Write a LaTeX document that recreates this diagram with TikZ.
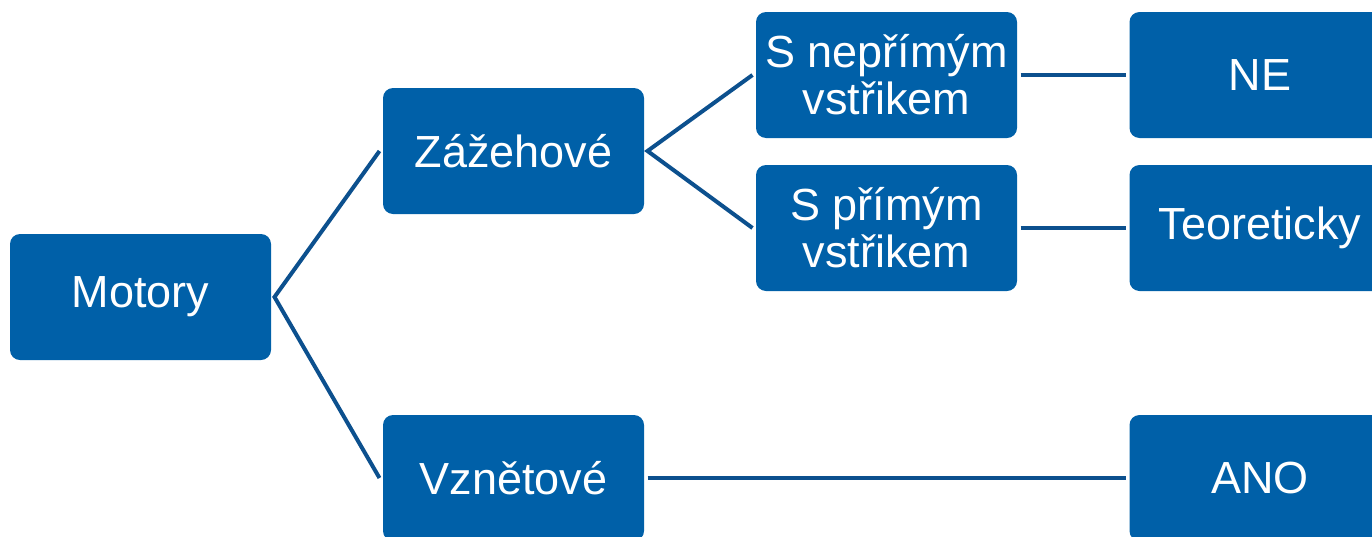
\documentclass[tikz,border=0pt]{standalone}
\usepackage{fontspec}
\setmainfont{Liberation Sans}
\definecolor{boxblue}{RGB}{0,96,168}
\definecolor{lineblue}{RGB}{12,80,142}
\begin{document}
\begin{tikzpicture}[x=1pt,y=-1pt,
  box/.style={rectangle, rounded corners=10pt, fill=boxblue, text=white,
    minimum width=261pt, minimum height=126pt, inner sep=0pt, outer sep=3.5pt,
    align=center, font=\fontsize{45}{47}\selectfont},
  link/.style={draw=lineblue, line width=4pt}]
\useasboundingbox (0,0) rectangle (1372,536);
\clip (0,0) rectangle (1372,536);
\node[box] (mot) at (140.5,297) {Motory};
\node[box] (zaz) at (513.5,151) {Zážehové};
\node[box] (vzn) at (513.5,478) {Vznětové};
\node[box] (nep) at (886.5,75) {S nepřímým\\vstřikem};
\node[box] (pri) at (886.5,228) {S přímým\\vstřikem};
\node[box] (ne) at (1260,75) {NE};
\node[box] (teo) at (1260,228) {Teoreticky};
\node[box] (ano) at (1260,478) {ANO};
\draw[link] (zaz.west) -- (mot.east) -- (vzn.west);
\draw[link] (nep.west) -- (zaz.east) -- (pri.west);
\draw[link] (nep) -- (ne);
\draw[link] (pri) -- (teo);
\draw[link] (vzn) -- (ano);
\end{tikzpicture}
\end{document}
